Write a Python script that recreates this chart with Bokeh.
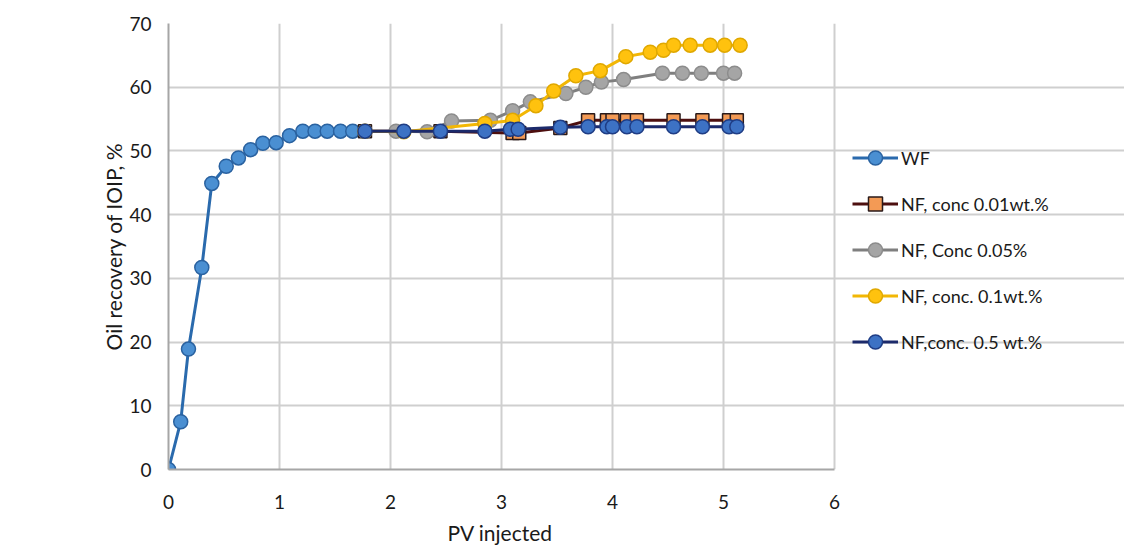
from bokeh.plotting import figure
from bokeh.models import Legend, LegendItem, FixedTicker, Range1d, Title
from bokeh.embed import file_html
from bokeh.resources import INLINE

# ---- data ----
wf_x = [0, 0.11, 0.18, 0.30, 0.39, 0.52, 0.63, 0.74, 0.85, 0.97, 1.09, 1.21, 1.32, 1.43, 1.55, 1.66]
wf_y = [0, 7.5, 18.9, 31.7, 44.9, 47.6, 48.9, 50.2, 51.2, 51.3, 52.4, 53.1, 53.1, 53.1, 53.1, 53.1]

nf001_x = [1.77, 2.45, 3.10, 3.16, 3.53, 3.78, 3.95, 4.00, 4.13, 4.22, 4.55, 4.81, 5.05, 5.12]
nf001_y = [53.1, 53.1, 52.8, 52.8, 53.6, 54.8, 54.8, 54.8, 54.8, 54.8, 54.8, 54.8, 54.8, 54.8]

nf005_x = [1.77, 2.05, 2.33, 2.55, 2.90, 3.10, 3.26, 3.58, 3.76, 3.90, 4.10, 4.45, 4.63, 4.80, 5.00, 5.10]
nf005_y = [53.1, 53.1, 53.0, 54.7, 54.8, 56.3, 57.7, 59.0, 60.0, 60.8, 61.2, 62.2, 62.2, 62.2, 62.2, 62.2]

nf01_x = [1.77, 2.12, 2.85, 3.10, 3.31, 3.47, 3.67, 3.89, 4.12, 4.34, 4.46, 4.55, 4.70, 4.88, 5.01, 5.15]
nf01_y = [53.1, 53.0, 54.3, 54.8, 57.1, 59.4, 61.8, 62.6, 64.8, 65.5, 65.8, 66.6, 66.6, 66.6, 66.6, 66.6]

nf05_x = [1.77, 2.12, 2.45, 2.85, 3.08, 3.15, 3.53, 3.78, 3.95, 4.00, 4.13, 4.22, 4.55, 4.81, 5.05, 5.12]
nf05_y = [53.1, 53.1, 53.1, 53.1, 53.4, 53.4, 53.7, 53.8, 53.8, 53.8, 53.8, 53.8, 53.8, 53.8, 53.8, 53.8]

x_ticks = [0, 1, 2, 3, 4, 5, 6]
y_ticks = [0, 10, 20, 30, 40, 50, 60, 70]

labels = ["WF", "NF, conc 0.01wt.%", "NF, Conc 0.05%", "NF, conc. 0.1wt.%", "NF,conc. 0.5 wt.%"]
x_title = "PV injected"
y_title = "Oil recovery of IOIP, %"

FONT = "Lato"

# layout: plot box is 666 px wide for x in [0, 6]; the frame extends further right for the legend
W, LEFT = 1124, 168
BOX_W = 666
x_end = 6 * (W - LEFT) / BOX_W

p = figure(width=W, height=552, output_backend="svg", toolbar_location=None,
           x_range=Range1d(0, x_end), y_range=Range1d(0, 70),
           min_border_left=LEFT, min_border_right=0, min_border_top=23, min_border_bottom=83)
p.outline_line_color = None
p.background_fill_color = "white"

for ax in (p.xaxis[0], p.yaxis[0]):
    ax.major_tick_line_color = None
    ax.minor_tick_line_color = None
    ax.axis_line_color = "#a6a6a6"
    ax.axis_line_width = 2
    ax.major_label_text_font = FONT
    ax.major_label_text_font_size = "19px"
    ax.major_label_text_color = "#1a1a1a"
    ax.axis_label_text_font = FONT
    ax.axis_label_text_font_size = "21px"
    ax.axis_label_text_font_style = "normal"
    ax.axis_label_text_color = "#1a1a1a"

p.xaxis.ticker = FixedTicker(ticks=x_ticks)
p.yaxis.ticker = FixedTicker(ticks=y_ticks)
p.xaxis.bounds = (0, 6)
p.yaxis.axis_label = y_title
p.xaxis.major_label_standoff = 19
p.yaxis.major_label_standoff = 11
p.yaxis.axis_label_standoff = 0

# x-axis title centred under the [0, 6] plot box
xt = Title(text=x_title, align="left", offset=279, text_font=FONT, text_font_size="21px",
           text_font_style="normal", text_color="#1a1a1a", standoff=13)
p.add_layout(xt, "below")

p.xgrid.ticker = FixedTicker(ticks=x_ticks)
p.ygrid.ticker = FixedTicker(ticks=y_ticks)
p.ygrid.bounds = (0, 6)
p.grid.grid_line_color = "#cfcfcf"
p.grid.grid_line_width = 2

series = [
    (wf_x, wf_y, "circle", "#2a6aad", "#4a8fd2", "#2a62a0", 3),
    (nf001_x, nf001_y, "square", "#4d0f0f", "#f39a55", "#2a1a1a", 3),
    (nf005_x, nf005_y, "circle", "#7f7f7f", "#a5a5a5", "#8c8c8c", 3),
    (nf01_x, nf01_y, "circle", "#f2b705", "#ffc20e", "#e0a800", 3),
    (nf05_x, nf05_y, "circle", "#1c2a6b", "#3d72c4", "#1f3d85", 3),
]

items = []
for (xs, ys, mk, lc, fc, oc, lw), lab in zip(series, labels):
    r_line = p.line(xs, ys, line_color=lc, line_width=lw)
    size = 14 if mk == "circle" else 13
    r_pts = p.scatter(xs, ys, marker=mk, size=size, fill_color=fc, line_color=oc, line_width=1.5)
    items.append(LegendItem(label=lab, renderers=[r_line, r_pts]))

legend = Legend(items=items, location=(684, 110), orientation="vertical")
legend.label_text_font = FONT
legend.label_text_font_size = "18px"
legend.label_text_color = "#1a1a1a"
legend.glyph_width = 46
legend.glyph_height = 35
legend.label_height = 20
legend.spacing = 11
legend.padding = 0
legend.margin = 0
legend.label_standoff = 3
legend.border_line_color = None
legend.background_fill_alpha = 0
p.add_layout(legend, "center")

open("out.html", "w").write(file_html(p, INLINE))
